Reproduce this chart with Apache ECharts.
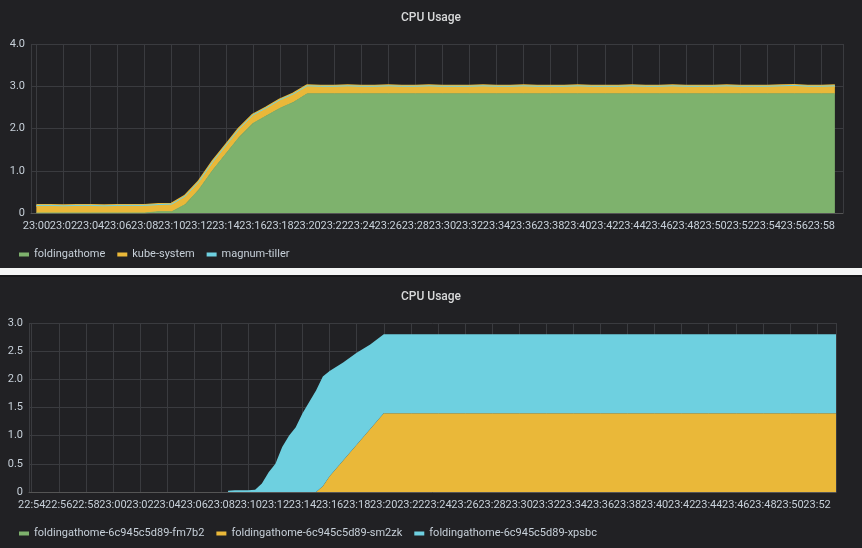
<!DOCTYPE html>
<html><head><meta charset="utf-8">
<script src="https://cdn.jsdelivr.net/npm/echarts@6/dist/echarts.min.js"></script>
<style>html,body{margin:0;background:#fff}#c{width:862px;height:548px}</style>
</head><body><div id="c"></div>
<script>
// top panel: one point per minute from 23:00 to 23:59
var topMinutes = [];
for (var m = 0; m < 60; m++) topMinutes.push(m);
var topFolding = [0,0,0,0,0,0,0,0,0,0.03,0.03,0.2,0.55,1.0,1.4,1.8,2.12,2.3,2.48,2.62,2.82,
  2.82,2.82,2.82,2.82,2.82,2.82,2.82,2.82,2.82,2.82,2.82,2.82,2.82,2.82,2.82,2.82,2.82,2.82,2.82,
  2.82,2.82,2.82,2.82,2.82,2.82,2.82,2.82,2.82,2.82,2.82,2.82,2.82,2.82,2.82,2.82,2.82,2.82,2.82,2.82];
var topKube = [0.18,0.18,0.17,0.18,0.18,0.17,0.18,0.18,0.18,0.17,0.18,0.2,0.19,0.2,0.2,0.2,0.2,0.19,0.2,0.2,0.19,
  0.18,0.18,0.19,0.18,0.18,0.19,0.18,0.18,0.19,0.18,0.18,0.18,0.19,0.18,0.18,0.19,0.18,0.18,0.18,
  0.19,0.18,0.18,0.18,0.19,0.18,0.18,0.19,0.18,0.18,0.18,0.19,0.18,0.18,0.18,0.19,0.2,0.18,0.18,0.19];
var topTiller = [];
for (var m = 0; m < 60; m++) topTiller.push(0);

// bottom panel: minutes after 23:00
var botMinutes = [8.5,9,10,10.5,11,11.5,12,12.5,13,13.5,14,15,15.5,16,17,18,19,20,25,30,35,40,45,50,53.4];
var botFm7b2 = [0,0,0,0,0,0,0,0,0,0,0,0,0,0,0,0,0,0,0,0,0,0,0,0,0];
var botSm2zk = [0,0,0,0,0,0,0,0,0,0,0,0,0.1,0.28,0.56,0.84,1.12,1.4,1.4,1.4,1.4,1.4,1.4,1.4,1.4];
var botTotal = [0.02,0.03,0.03,0.04,0.15,0.35,0.5,0.8,1.0,1.15,1.4,1.8,2.05,2.15,2.3,2.47,2.62,2.8,2.8,2.8,2.8,2.8,2.8,2.8,2.8];

var base = new Date(2020, 0, 1, 23, 0, 0).getTime();
function t(m) { return base + m * 60000; }
function pairs(ms, vals) { return ms.map(function (m, i) { return [t(m), vals[i]]; }); }
var botXpsbc = botTotal.map(function (v, i) { return +(v - botSm2zk[i]).toFixed(3); });

var txt = '#c7d0d9', grid = '#3a3b3f';
function xAx(idx, min, max) {
  return { type: 'time', gridIndex: idx, min: t(min), max: t(max), minInterval: 300000, maxInterval: 300000,
    axisLine: { lineStyle: { color: '#555' } }, axisTick: { show: false },
    axisLabel: { formatter: '{HH}:{mm}', color: txt, fontSize: 11, fontFamily: 'Roboto', hideOverlap: false },
    splitLine: { show: true, lineStyle: { color: grid } } };
}
function yAx(idx, max, iv, fmt) {
  return { type: 'value', gridIndex: idx, min: 0, max: max, interval: iv,
    axisLine: { show: false }, axisTick: { show: false },
    axisLabel: { color: txt, fontSize: 11, fontFamily: 'Roboto', margin: 6,
      formatter: function (v) { return v === 0 ? '0' : v.toFixed(1); } },
    splitLine: { lineStyle: { color: grid } } };
}
function area(name, data, color, xi, stack, lw) {
  return { name: name, type: 'line', data: data, xAxisIndex: xi, yAxisIndex: xi, stack: stack,
    symbol: 'none', lineStyle: { color: color, width: lw }, itemStyle: { color: color },
    areaStyle: { color: color, opacity: 1 } };
}

var chart = echarts.init(document.getElementById('c'));
chart.setOption({
  backgroundColor: '#161719',
  animation: false,
  graphic: [
    { type: 'rect', shape: { x: 0, y: 0, width: 862, height: 268 }, style: { fill: '#212124' }, z: -10 },
    { type: 'rect', shape: { x: 0, y: 268, width: 862, height: 7 }, style: { fill: '#f4f5f5' }, z: -10 },
    { type: 'rect', shape: { x: 0, y: 277, width: 862, height: 271 }, style: { fill: '#212124' }, z: -10 }
  ],
  title: [
    { text: 'CPU Usage', left: 'center', top: 7, textStyle: { color: '#d8d9da', fontSize: 12, fontWeight: 500, fontFamily: 'Roboto' } },
    { text: 'CPU Usage', left: 'center', top: 286, textStyle: { color: '#d8d9da', fontSize: 12, fontWeight: 500, fontFamily: 'Roboto' } }
  ],
  legend: [
    { data: ['foldingathome', 'kube-system', 'magnum-tiller'], left: 14, top: 244, icon: 'rect', itemWidth: 10, itemHeight: 4,
      itemGap: 12, textStyle: { color: txt, fontSize: 11, fontFamily: 'Roboto' } },
    { data: ['foldingathome-6c945c5d89-fm7b2', 'foldingathome-6c945c5d89-sm2zk', 'foldingathome-6c945c5d89-xpsbc'],
      left: 14, top: 523, icon: 'rect', itemWidth: 10, itemHeight: 4, itemGap: 12,
      textStyle: { color: txt, fontSize: 11, fontFamily: 'Roboto' } }
  ],
  grid: [
    { left: 31, right: 19, top: 44, bottom: 335 },
    { left: 29, right: 26, top: 323, bottom: 56 }
  ],
  xAxis: [xAx(0, -0.4, 59.6), xAx(1, -6.2, 53.4)],
  yAxis: [yAx(0, 4, 1), yAx(1, 3, 0.5)],
  series: [
    area('foldingathome', pairs(topMinutes, topFolding), '#7eb26d', 0, 'a', 1),
    area('kube-system', pairs(topMinutes, topKube), '#eab839', 0, 'a', 3),
    area('magnum-tiller', pairs(topMinutes, topTiller), '#6ed0e0', 0, 'a', 1),
    area('foldingathome-6c945c5d89-fm7b2', pairs(botMinutes, botFm7b2), '#7eb26d', 1, 'b', 0),
    area('foldingathome-6c945c5d89-sm2zk', pairs(botMinutes, botSm2zk), '#eab839', 1, 'b', 0),
    area('foldingathome-6c945c5d89-xpsbc', pairs(botMinutes, botXpsbc), '#6ed0e0', 1, 'b', 0)
  ]
});
</script></body></html>
